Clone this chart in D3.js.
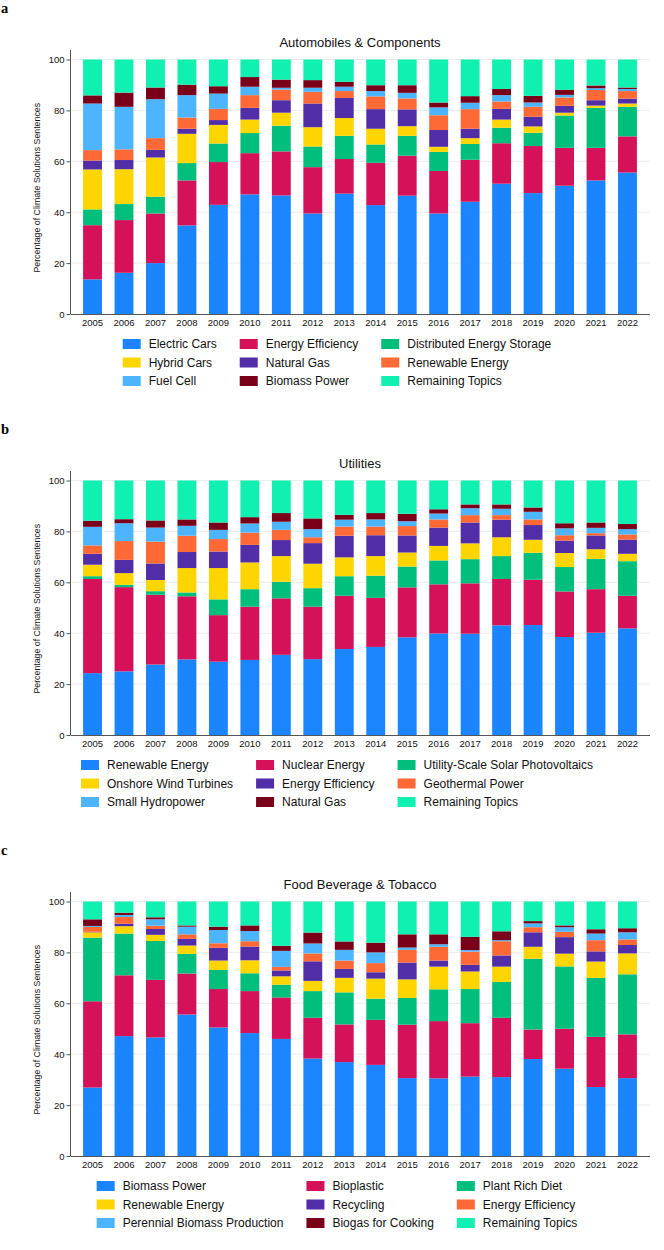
<!DOCTYPE html>
<html>
<head>
<meta charset="utf-8">
<script src="https://cdn.jsdelivr.net/npm/d3@7"></script>
<style>
    body { margin: 0; background: #fff; }
    svg { display: block; font-family: "Liberation Sans", Arial, sans-serif; }
    .axis text { fill: #111; }
</style>
</head>
<body>
<div id="chart"></div>
<script>

// years on the x axis
var years = ["2005", "2006", "2007", "2008", "2009", "2010", "2011", "2012", "2013",
    "2014", "2015", "2016", "2017", "2018", "2019", "2020", "2021", "2022"];

var yTicks = [0, 20, 40, 60, 80, 100];

// panel a
var autoTopics = ["Electric Cars", "Energy Efficiency", "Distributed Energy Storage",
    "Hybrid Cars", "Natural Gas", "Renewable Energy",
    "Fuel Cell", "Biomass Power", "Remaining Topics"];
var autoShares = [
    [13.6, 21.3, 6.2, 15.7, 3.5, 4.1, 18.3, 3.2, 14.1],
    [16.2, 20.7, 6.3, 13.7, 3.6, 4.2, 16.7, 5.6, 13.0],
    [20.0, 19.5, 6.6, 15.4, 3.0, 4.6, 15.3, 4.6, 11.0],
    [34.8, 17.7, 6.8, 11.5, 2.0, 4.4, 8.8, 4.1, 9.9],
    [42.9, 16.8, 7.3, 7.3, 1.9, 4.4, 6.0, 2.9, 10.5],
    [47.0, 16.2, 7.9, 5.3, 4.6, 5.0, 3.3, 3.8, 6.9],
    [46.6, 17.3, 10.1, 5.1, 4.9, 4.2, 0.7, 3.2, 7.9],
    [39.5, 18.2, 8.1, 7.6, 9.3, 4.6, 1.6, 3.0, 8.1],
    [47.3, 13.6, 9.1, 7.0, 7.9, 2.7, 1.7, 1.9, 8.8],
    [42.8, 16.6, 7.2, 6.2, 7.7, 5.0, 2.1, 2.3, 10.1],
    [46.5, 15.7, 7.8, 3.8, 6.6, 4.3, 2.2, 3.0, 10.1],
    [39.5, 16.7, 7.5, 2.0, 6.6, 5.8, 3.1, 1.9, 16.9],
    [44.1, 16.5, 6.2, 2.3, 3.7, 7.7, 2.5, 2.6, 14.4],
    [51.2, 15.9, 6.1, 3.2, 4.2, 2.9, 2.5, 2.4, 11.6],
    [47.5, 18.5, 5.2, 2.5, 3.8, 3.9, 1.7, 2.6, 14.3],
    [50.4, 14.9, 12.7, 1.1, 2.7, 3.3, 1.0, 2.0, 11.9],
    [52.5, 12.8, 15.7, 0.9, 2.1, 4.0, 0.7, 1.1, 10.2],
    [55.6, 14.2, 11.6, 1.3, 1.9, 3.0, 0.8, 0.6, 11.0]
];

// panel b
var utilTopics = ["Renewable Energy", "Nuclear Energy", "Utility-Scale Solar Photovoltaics",
    "Onshore Wind Turbines", "Energy Efficiency", "Geothermal Power",
    "Small Hydropower", "Natural Gas", "Remaining Topics"];
var utilShares = [
    [24.3, 37.0, 1.1, 4.5, 4.3, 3.3, 7.3, 2.4, 15.8],
    [25.0, 33.1, 0.9, 4.6, 5.2, 7.4, 7.0, 1.6, 15.2],
    [27.7, 27.4, 1.4, 4.4, 6.5, 8.6, 5.5, 2.8, 15.7],
    [29.7, 24.8, 1.5, 9.6, 6.3, 6.4, 3.9, 2.5, 15.3],
    [28.8, 18.3, 6.2, 12.3, 6.5, 4.9, 3.6, 2.9, 16.5],
    [29.5, 20.9, 6.9, 10.5, 6.9, 4.8, 3.6, 2.5, 14.4],
    [31.5, 22.2, 6.5, 10.1, 6.3, 4.0, 3.2, 3.4, 12.8],
    [29.8, 20.6, 7.3, 9.6, 8.1, 2.3, 3.2, 4.2, 14.9],
    [33.8, 20.9, 7.7, 7.4, 8.5, 3.6, 2.7, 1.9, 13.5],
    [34.6, 19.3, 8.7, 7.7, 8.2, 3.4, 2.8, 2.5, 12.8],
    [38.4, 19.6, 8.2, 5.5, 6.7, 3.7, 1.9, 2.9, 13.1],
    [39.9, 19.3, 9.4, 5.7, 7.2, 3.2, 2.3, 1.7, 11.3],
    [39.8, 19.8, 9.5, 6.2, 8.2, 2.9, 2.7, 1.5, 9.4],
    [43.1, 18.2, 9.0, 7.4, 6.9, 1.8, 2.5, 1.7, 9.4],
    [43.2, 17.8, 10.6, 5.1, 5.8, 2.2, 3.0, 1.7, 10.6],
    [38.5, 17.9, 9.6, 5.5, 4.9, 2.1, 2.7, 2.0, 16.8],
    [40.2, 17.1, 11.9, 3.8, 5.4, 0.9, 2.1, 2.1, 16.5],
    [41.9, 12.8, 13.6, 2.9, 5.6, 2.0, 2.1, 2.0, 17.1]
];

// panel c
var foodTopics = ["Biomass Power", "Bioplastic", "Plant Rich Diet",
    "Renewable Energy", "Recycling", "Energy Efficiency",
    "Perennial Biomass Production", "Biogas for Cooking", "Remaining Topics"];
var foodShares = [
    [26.9, 33.9, 25.0, 2.1, 0.2, 1.9, 0.4, 2.6, 7.0],
    [47.1, 23.9, 16.4, 2.9, 1.0, 2.6, 0.8, 0.9, 4.4],
    [46.6, 22.6, 15.3, 2.4, 2.3, 1.3, 2.5, 0.8, 6.2],
    [55.6, 16.1, 7.7, 3.3, 2.6, 1.8, 3.0, 0.5, 9.4],
    [50.5, 15.1, 7.5, 3.7, 5.0, 1.8, 5.2, 1.3, 9.9],
    [48.3, 16.5, 7.0, 5.1, 5.4, 2.1, 4.0, 2.2, 9.4],
    [46.0, 16.3, 5.0, 3.3, 2.3, 1.4, 6.3, 2.0, 17.4],
    [38.3, 16.0, 10.5, 4.0, 7.7, 3.1, 3.9, 4.3, 12.2],
    [36.9, 14.8, 12.6, 5.7, 3.5, 3.3, 4.2, 3.3, 15.7],
    [35.8, 17.7, 8.3, 7.9, 2.5, 3.6, 4.2, 3.8, 16.2],
    [30.6, 21.0, 10.5, 7.3, 6.6, 5.0, 0.9, 5.2, 12.9],
    [30.5, 22.5, 12.5, 8.9, 2.4, 5.4, 1.0, 3.9, 12.9],
    [31.2, 21.0, 13.4, 6.9, 2.6, 5.2, 0.6, 5.2, 13.9],
    [31.0, 23.3, 14.1, 6.0, 4.4, 5.6, 0.4, 3.5, 11.7],
    [38.1, 11.6, 27.8, 4.7, 5.7, 2.0, 1.5, 0.9, 7.7],
    [34.3, 15.7, 24.5, 5.0, 6.5, 2.1, 1.8, 0.7, 9.4],
    [27.1, 19.7, 23.2, 6.4, 4.0, 4.4, 2.6, 1.7, 10.9],
    [30.6, 17.2, 23.6, 8.2, 3.3, 2.2, 2.8, 1.6, 10.5]
];

// same palette in stack order for all three panels
var palette = ["#1a85ff", "#d41159", "#00bf7d", "#ffd500", "#512da8",
    "#ff6935", "#4db5ff", "#7a0019", "#10f0b0"];


/*
 * StackedBars - one panel of the figure
 */
StackedBars = function(_svg, _offsetY, _letter, _title, _topics, _shares){
    this.svg = _svg;
    this.offsetY = _offsetY;
    this.letter = _letter;
    this.title = _title;
    this.topics = _topics;
    this.shares = _shares;
    this.initVis();
}

StackedBars.prototype.initVis = function(){
    var vis = this;

    vis.margin = {top: 59.5, left: 70.5};
    vis.width = 579;
    vis.height = 254.5;

    vis.g = vis.svg.append("g")
        .attr("transform", "translate(0," + vis.offsetY + ")");

    // panel letter
    vis.g.append("text")
        .attr("x", 1)
        .attr("y", 12.5)
        .style("font-family", "'Liberation Serif', 'DejaVu Serif', serif")
        .style("font-weight", "bold")
        .style("font-size", "14.5px")
        .text(vis.letter);

    vis.focus = vis.g.append("g")
        .attr("transform", "translate(" + vis.margin.left + "," + vis.margin.top + ")");

    vis.x = d3.scaleBand()
        .domain(years)
        .range([0, vis.width])
        .paddingInner(0.4)
        .paddingOuter(0.4);

    vis.y = d3.scaleLinear()
        .domain([0, 100])
        .range([vis.height, 0]);

    vis.z = d3.scaleOrdinal()
        .domain(vis.topics)
        .range(palette);

    // grid
    vis.focus.append("g")
        .selectAll("line")
        .data(yTicks.slice(1))
        .enter().append("line")
        .attr("x1", 0)
        .attr("x2", vis.width)
        .attr("y1", function(d) { return vis.y(d); })
        .attr("y2", function(d) { return vis.y(d); })
        .attr("stroke", "#ececec")
        .attr("stroke-width", 1);

    // title
    vis.focus.append("text")
        .attr("x", vis.width / 2)
        .attr("y", -13)
        .attr("text-anchor", "middle")
        .style("font-size", "13px")
        .style("fill", "#111")
        .text(vis.title);

    // stack the rows
    var rows = vis.shares.map(function(r, i) {
        var o = {year: years[i]};
        vis.topics.forEach(function(t, j) { o[t] = r[j]; });
        return o;
    });
    vis.stack = d3.stack().keys(vis.topics)(rows);

    vis.focus.selectAll(".layer")
        .data(vis.stack)
        .enter().append("g")
        .attr("class", "layer")
        .attr("fill", function(d) { return vis.z(d.key); })
        .selectAll("rect")
        .data(function(d) { return d; })
        .enter().append("rect")
        .attr("x", function(d) { return vis.x(d.data.year); })
        .attr("width", vis.x.bandwidth())
        .attr("y", function(d) { return vis.y(d[1]); })
        .attr("height", function(d) { return vis.y(d[0]) - vis.y(d[1]); });

    // axes
    vis.yAxis = d3.axisLeft(vis.y)
        .tickValues(yTicks)
        .tickSize(4)
        .tickPadding(2);

    vis.xAxis = d3.axisBottom(vis.x)
        .tickSize(0)
        .tickPadding(5);

    var yg = vis.focus.append("g")
        .attr("class", "y-axis axis")
        .call(vis.yAxis);
    yg.select(".domain").remove();
    yg.selectAll("line").attr("stroke", "#555");
    yg.selectAll("text").style("font-size", "9.5px");

    vis.focus.append("line")
        .attr("x1", 0).attr("x2", 0)
        .attr("y1", vis.y(0)).attr("y2", -9.5)
        .attr("stroke", "#555");

    var xg = vis.focus.append("g")
        .attr("class", "x-axis axis")
        .attr("transform", "translate(0," + vis.height + ")")
        .call(vis.xAxis);
    xg.select(".domain").attr("stroke", "#555");
    xg.selectAll("text").style("font-size", "9.5px");

    vis.focus.append("text")
        .attr("transform", "translate(-31," + (vis.height / 2 + 1) + ") rotate(-90)")
        .attr("text-anchor", "middle")
        .style("font-size", "8.8px")
        .style("fill", "#111")
        .text("Percentage of Climate Solutions Sentences");

    vis.drawLegend();
}

StackedBars.prototype.drawLegend = function(){
    var vis = this;
    var legY = vis.margin.top + vis.height + 30;
    var rowH = 18.5, sw = 18, textOff = 26, gap = 23, center = 337;

    var leg = vis.g.append("g");
    var items = leg.selectAll(".item")
        .data(vis.topics)
        .enter().append("g")
        .attr("class", "item");

    items.append("rect")
        .attr("width", sw)
        .attr("height", 10)
        .attr("y", -5)
        .attr("fill", function(d) { return vis.z(d); });

    items.append("text")
        .attr("x", textOff)
        .attr("dy", "0.35em")
        .style("font-size", "12px")
        .style("fill", "#111")
        .text(function(d) { return d; });

    // column widths from the longest label
    var colW = [0, 0, 0];
    items.each(function(d, i) {
        var w = d3.select(this).select("text").node().getComputedTextLength();
        colW[i % 3] = Math.max(colW[i % 3], textOff + w);
    });
    var total = colW[0] + colW[1] + colW[2] + 2 * gap;
    var colX = [center - total / 2];
    colX.push(colX[0] + colW[0] + gap);
    colX.push(colX[1] + colW[1] + gap);

    items.attr("transform", function(d, i) {
        return "translate(" + colX[i % 3] + "," + (legY + Math.floor(i / 3) * rowH) + ")";
    });
}


var svg = d3.select("#chart").append("svg")
    .attr("width", 664)
    .attr("height", 1250);

new StackedBars(svg, 0, "a", "Automobiles & Components", autoTopics, autoShares);
new StackedBars(svg, 421, "b", "Utilities", utilTopics, utilShares);
new StackedBars(svg, 842, "c", "Food Beverage & Tobacco", foodTopics, foodShares);

</script>
</body>
</html>
